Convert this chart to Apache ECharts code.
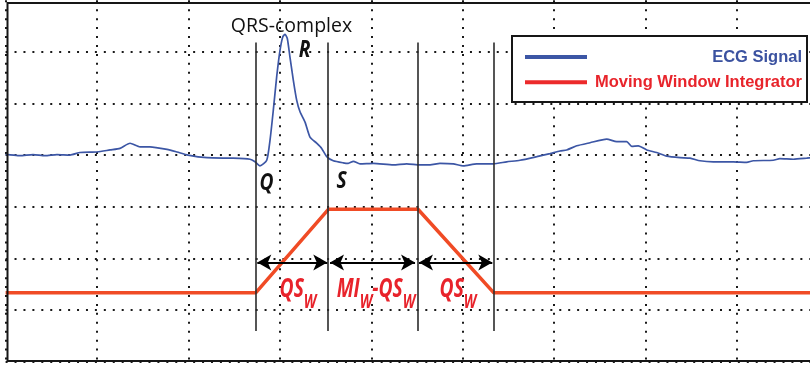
<!DOCTYPE html>
<html>
<head>
<meta charset="utf-8">
<script src="https://cdn.jsdelivr.net/npm/echarts@6/dist/echarts.min.js"></script>
<style>
  html, body { margin: 0; padding: 0; background: #fff; overflow: hidden; }
  #chart { width: 840px; height: 365px; }
</style>
</head>
<body>
<div id="chart"></div>
<script>
// Time axis in samples (100 samples per grid division), amplitude in grid divisions.
const ecgT = [0, 2.6, 15.7, 30, 43.1, 56.2, 70.4, 81.4, 100, 114.2, 125.1, 136.1, 147, 157.9,
  176.5, 187.5, 199.5, 220.3, 248.7, 267.3, 272.8, 278.2, 285.6, 289.2, 292.8, 296.5, 300.1, 303.1,
  305.6, 308.1, 311, 314.7, 318.4, 322, 327.5, 332.9, 340.2, 345.7, 351.2, 358.4, 369.3, 374.8,
  380.3, 387.6, 402.2, 424, 438.7, 453.2, 464.2, 475.1, 489.6, 500.6, 515.2, 533.4, 548, 562.6,
  580.9, 595.4, 606.3, 613.7, 624.6, 639.2, 657.4, 668.4, 679.3, 684.8, 692, 701.2, 712.1, 723.1,
  737.6, 748.6, 759.5, 774, 795.9, 810.5, 817.7, 839.6, 846.9, 861.5, 876.2, 882];
const ecgV = [4.01, 4.01, 3.99, 4.01, 3.99, 4.01, 4.0, 4.05, 4.06, 4.1, 4.13, 4.23, 4.16, 4.16,
  4.11, 4.06, 4.0, 3.95, 3.94, 3.92, 3.87, 3.79, 3.9, 4.29, 4.87, 5.52, 6.03, 6.29,
  6.34, 6.26, 5.9, 5.45, 5.06, 4.84, 4.64, 4.35, 4.23, 4.13, 3.97, 3.89, 3.85, 3.84,
  3.88, 3.83, 3.84, 3.81, 3.83, 3.81, 3.81, 3.84, 3.83, 3.79, 3.83, 3.83, 3.87, 3.9,
  3.97, 4.03, 4.08, 4.1, 4.18, 4.24, 4.31, 4.26, 4.26, 4.17, 4.18, 4.1, 4.05, 3.98,
  3.95, 3.94, 3.89, 3.87, 3.87, 3.86, 3.89, 3.9, 3.93, 3.92, 3.94, 3.95];

// Moving window integrator output
const mwiT = [0, 273.5, 353, 451, 534, 900];
const mwiV = [1.33, 1.33, 2.95, 2.95, 1.33, 1.33];

// Q onset, S point, end of plateau, end of ramp
const dividerT = [273.5, 352.3, 450.7, 533.4];
const dividerSpan = [0.59, 6.18];

// Width arrows between the dividers
const arrowFrom = [275.3, 354.8, 452.1];
const arrowTo = [351.8, 447.8, 532.3];
const arrowY = 1.917;

const seriesNames = ['ECG Signal', 'Moving Window Integrator'];
const seriesColors = ['#3c56a5', '#f04b25'];
const legendColors = ['#3b52a0', '#e8242b'];

// Annotations: [text, t, v, style]
const notes = [
  ['QRS-complex', 312.7, 6.5, 'title'],
  ['R', 326.9, 6.03, 'peak'],
  ['Q', 285.4, 3.45, 'peak'],
  ['S', 367.6, 3.49, 'peak'],
  ['{m|QS}{s|W}', 319.8, 1.39, 'width'],
  ['{m|MI}{s|W}{m|-QS}{s|W}', 405.1, 1.39, 'width'],
  ['{m|QS}{s|W}', 494.8, 1.39, 'width']
];

const italicFace = '"Open Sans", sans-serif';
const red = '#e8232b';
const noteStyles = {
  title: { scaleX: 1, style: { fontFamily: '"Open Sans", sans-serif', fontSize: 19.5, fill: '#111' } },
  peak: { scaleX: 0.8, style: { fontFamily: italicFace, fontSize: 24, fontWeight: 'bold', fontStyle: 'italic', fill: '#111' } },
  width: {
    scaleX: 0.74,
    style: {
      fontFamily: italicFace, fontWeight: 'bold', fontStyle: 'italic', fill: red,
      rich: {
        m: { fontFamily: italicFace, fontSize: 26, fontWeight: 'bold', fontStyle: 'italic', fill: red,
             lineHeight: 26, verticalAlign: 'top' },
        s: { fontFamily: italicFace, fontSize: 19, fontWeight: 'bold', fontStyle: 'italic', fill: red,
             lineHeight: 19, padding: [16.5, 0, 0, 0], verticalAlign: 'top' }
      }
    }
  }
};

const chart = echarts.init(document.getElementById('chart'), null, { renderer: 'canvas' });

const dotted = { color: '#1a1a1a', width: 2, type: [2, 6.93] };

const markLines = [];
dividerT.forEach(t => markLines.push([
  { coord: [t, dividerSpan[0]], symbol: 'none', lineStyle: { color: '#2b2b2b', width: 1.6, type: 'solid' } },
  { coord: [t, dividerSpan[1]], symbol: 'none' }
]));
arrowFrom.forEach((a, i) => markLines.push([
  { coord: [a, arrowY], symbol: 'arrow', lineStyle: { color: '#000', width: 2, type: 'solid' } },
  { coord: [arrowTo[i], arrowY], symbol: 'arrow' }
]));

const legendItems = [];
seriesNames.forEach((name, i) => {
  const y = 57 + i * 25.3;
  legendItems.push({
    type: 'line', z: 101, shape: { x1: 525, y1: y, x2: 587, y2: y },
    style: { stroke: i === 0 ? seriesColors[0] : '#ec2a2b', lineWidth: 4 }
  });
  legendItems.push({
    type: 'text', z: 101, x: 802, y: y,
    style: {
      text: name, fill: legendColors[i], align: 'right', verticalAlign: 'middle',
      font: 'bold 16.5px "Liberation Sans", Arial, sans-serif'
    }
  });
});

chart.setOption({
  animation: false,
  backgroundColor: '#fff',
  grid: { left: 5.6, top: 0.3, width: 822.9, height: 361.2 },
  xAxis: {
    type: 'value', min: 0, max: 900, interval: 100,
    axisLine: { show: false }, axisTick: { show: false }, axisLabel: { show: false },
    splitLine: { show: true, lineStyle: dotted }
  },
  yAxis: {
    type: 'value', min: 0, max: 7, interval: 1,
    axisLine: { show: false }, axisTick: { show: false }, axisLabel: { show: false },
    splitLine: { show: true, showMaxLine: false, lineStyle: dotted }
  },
  series: [
    {
      name: seriesNames[0], type: 'line', data: ecgT.map((t, i) => [t, ecgV[i]]),
      showSymbol: false, smooth: 0.2, lineStyle: { color: seriesColors[0], width: 1.7 }, z: 3
    },
    {
      name: seriesNames[1], type: 'line', data: mwiT.map((t, i) => [t, mwiV[i]]),
      showSymbol: false, lineStyle: { color: seriesColors[1], width: 3.5 }, z: 2,
      markLine: { silent: true, symbolSize: [12, 14], label: { show: false }, data: markLines }
    }
  ]
});

// Annotation texts placed at data coordinates
const noteGraphics = notes.map(n => {
  const p = chart.convertToPixel({ seriesIndex: 0 }, [n[1], n[2]]);
  const s = noteStyles[n[3]];
  return {
    type: 'text', z: 90, x: p[0], y: p[1], scaleX: s.scaleX, silent: true,
    style: Object.assign({ text: n[0], align: 'center', verticalAlign: 'middle' }, s.style)
  };
});

chart.setOption({
  graphic: [
    // plot frame (left, top, bottom)
    { type: 'polyline', z: 100, shape: { points: [[830, 3], [7.5, 3], [7.5, 361], [830, 361]] },
      style: { stroke: '#161616', lineWidth: 2, fill: null } },
    // legend box
    { type: 'rect', z: 100, shape: { x: 512, y: 36, width: 295, height: 66 },
      style: { fill: '#fff', stroke: '#161616', lineWidth: 2 } }
  ].concat(legendItems, noteGraphics)
});
</script>
</body>
</html>
